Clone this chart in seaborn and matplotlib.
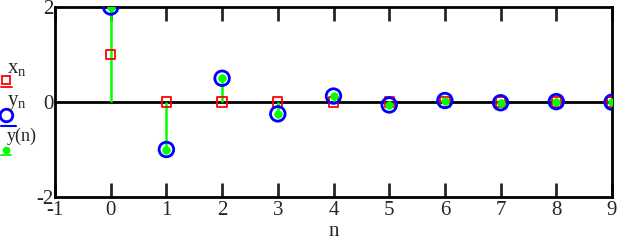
import matplotlib
matplotlib.use("Agg")
import matplotlib.pyplot as plt
import seaborn as sns
import numpy as np
import pandas as pd
from matplotlib.lines import Line2D

n_vals = [0, 1, 2, 3, 4, 5, 6, 7, 8, 9]
x_vals = [1, 0, 0, 0, 0, 0, 0, 0, 0, 0]
y_vals = [2.0, -1.0, 0.5, -0.25, 0.125, -0.0625, 0.03125, -0.015625, 0.0078125, -0.0039]
xticks = [-1, 0, 1, 2, 3, 4, 5, 6, 7, 8, 9]
yticks = [-2, 0, 2]

df = pd.DataFrame({"n": n_vals, "x": x_vals, "y": y_vals})

sns.set_style("white")
plt.rcParams['font.family'] = ['Liberation Serif', 'DejaVu Serif']

GREEN = "#00ff00"
fig = plt.figure(figsize=(6.32, 2.43), dpi=100)
ax = fig.add_axes([55/632, 1-197/243, (612-55)/632, (197-7)/243])

ax.axhline(0, color="black", lw=2, zorder=1)
ax.vlines(df["n"], 0, df["y"], color=GREEN, lw=1.8, zorder=2)
sns.scatterplot(data=df, x="n", y="x", ax=ax, marker="s", s=45, facecolor="none",
                edgecolor="red", linewidth=1.3, zorder=3, legend=False)
sns.scatterplot(data=df, x="n", y="y", ax=ax, marker="o", s=110, facecolor="none",
                edgecolor="blue", linewidth=2, zorder=4, legend=False)
sns.scatterplot(data=df, x="n", y="y", ax=ax, marker="o", s=30, color=GREEN,
                edgecolor=GREEN, linewidth=0.5, zorder=5, legend=False)

ax.set_xlim(-1, 9)
ax.set_ylim(-2, 2)
ax.set_xticks(xticks)
ax.set_yticks(yticks)
ax.set_xticklabels([str(t) for t in xticks], fontsize=15)
ax.set_yticklabels([str(t) for t in yticks], fontsize=15)
ax.tick_params(axis="x", direction="in", length=10, width=2, top=True, bottom=True, pad=3)
ax.tick_params(axis="y", length=0, pad=1)
for s in ax.spines.values():
    s.set_color("black")
    s.set_linewidth(2)
ax.set_xlabel("n", fontsize=15, labelpad=1)
ax.set_ylabel("")

# legend on the left
fig.text(7/632, 1-69/243, r"$\mathregular{x_n}$", fontsize=15, va="center", ha="left")
fig.add_artist(Line2D([6/632], [1-80/243], marker="s", markersize=6, markerfacecolor="none",
                      markeredgecolor="red", markeredgewidth=1.3, transform=fig.transFigure))
fig.add_artist(Line2D([1/632, 12/632], [1-87/243, 1-87/243], color="red", lw=1.3, transform=fig.transFigure))
fig.text(7/632, 1-103/243, r"$\mathregular{y_n}$", fontsize=15, va="center", ha="left")
fig.add_artist(Line2D([6/632], [1-115/243], marker="o", markersize=9, markerfacecolor="none",
                      markeredgecolor="blue", markeredgewidth=2, transform=fig.transFigure))
fig.add_artist(Line2D([1/632, 16/632], [1-126/243, 1-126/243], color="blue", lw=1.5, transform=fig.transFigure))
fig.text(7/632, 1-136/243, "y(n)", fontsize=13, va="center", ha="left")
fig.add_artist(Line2D([6/632], [1-150/243], marker="o", markersize=4.5, color=GREEN,
                      transform=fig.transFigure))
fig.add_artist(Line2D([1/632, 11/632], [1-155/243, 1-155/243], color=GREEN, lw=1.3, transform=fig.transFigure))

fig.savefig("out.png", dpi=100)
